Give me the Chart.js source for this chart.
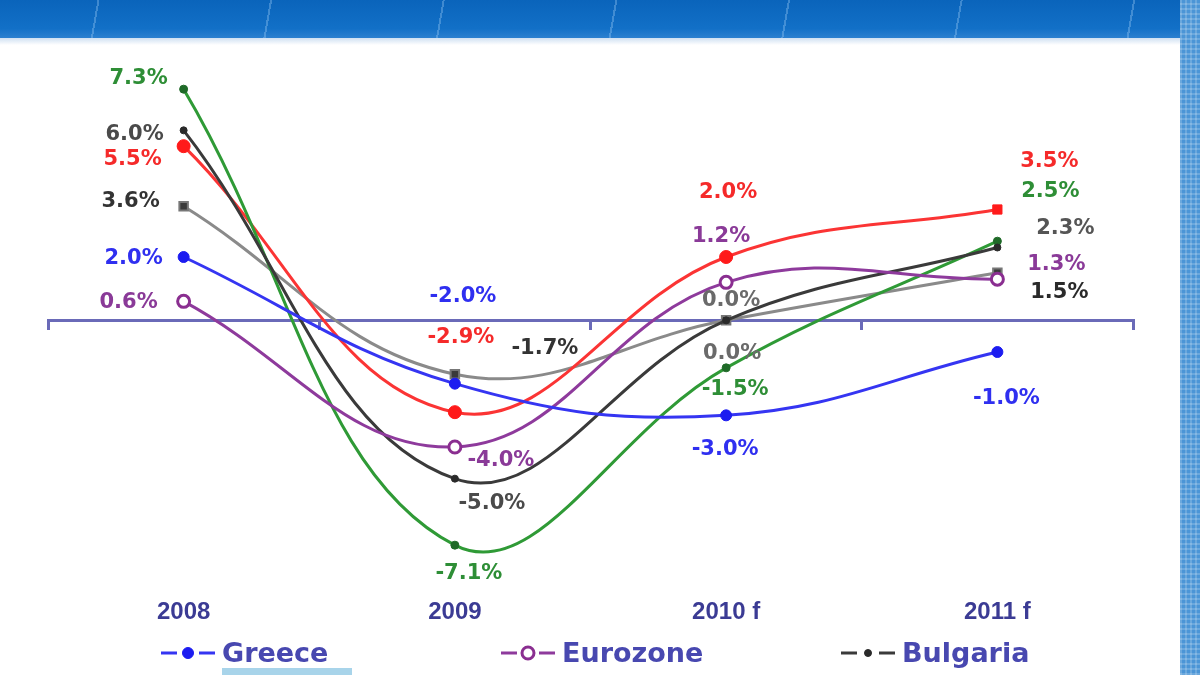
<!DOCTYPE html>
<html>
<head>
<meta charset="utf-8">
<script src="https://cdn.jsdelivr.net/npm/chart.js@4.4.1/dist/chart.umd.min.js"></script>
<style>
html,body{margin:0;padding:0;background:#fff;width:1200px;height:675px;overflow:hidden;position:relative;}
#banner{position:absolute;left:0;top:0;width:1200px;height:38px;
  background:
   repeating-linear-gradient(100deg, rgba(255,255,255,0) 0 96px, rgba(160,205,245,0.35) 96px 98px, rgba(255,255,255,0) 98px 170px),
   linear-gradient(#0a64bb,#1270c7 75%,#2b80d0);}
#band{position:absolute;left:0;top:38px;width:1180px;height:7px;background:linear-gradient(#cfe0f2,#ffffff);}
#strip{position:absolute;left:1180px;top:0;width:20px;height:675px;
  background:
   repeating-linear-gradient(0deg, rgba(255,255,255,0.18) 0 2px, rgba(255,255,255,0) 2px 5px),
   repeating-linear-gradient(90deg, rgba(255,255,255,0.18) 0 2px, rgba(255,255,255,0) 2px 5px),
   #4b95d6;}
#wrap{position:absolute;left:0;top:0;width:1200px;height:675px;}
#legend{position:absolute;left:0;top:637px;width:1180px;height:32px;}
.li{position:absolute;top:0;height:32px;display:flex;align-items:center;}
.li canvas{display:block;margin-right:6px;}
.li span{font-family:"DejaVu Sans",sans-serif;font-weight:bold;font-size:27px;color:#4848b0;line-height:32px;}
#under{position:absolute;left:222px;top:668px;width:130px;height:7px;background:#a8d4ea;}
</style>
</head>
<body>
<div id="banner"></div>
<div id="band"></div>
<div id="strip"></div>
<div id="wrap"><canvas id="c" width="1200" height="675"></canvas></div>
<div id="legend"></div>
<div id="under"></div>
<script>
// ---- data ----
const categories = ['2008', '2009', '2010 f', '2011 f'];
const greece   = [2.0, -2.0, -3.0, -1.0];
const eurozone = [0.6, -4.0, 1.2, 1.3];
const bulgaria = [6.0, -5.0, 0.0, 2.3];
const romania  = [7.3, -7.1, -1.5, 2.5];
const serbia   = [5.5, -2.9, 2.0, 3.5];
const cyprus   = [3.6, -1.7, 0.0, 1.5];
const legendCount = 3;

// ---- label placement (offsets from each point, px) ----
const offGreece   = [[-50, 2], [8, -87], [-1, 34], [9, 47]];
const offEurozone = [[-55, 1], [46, 14], [-5, -46], [59, -15]];
const offBulgaria = [[-49, 4], [37, 25], [6, 33], [68, -19]];
const offRomania  = [[-45, -11], [14, 28], [9, 22], [53, -50]];
const offSerbia   = [[-51, 13], [6, -75], [2, -64], [52, -48]];
const offCyprus   = [[-53, -5], [90, -26], [5, -20], [62, 20]];

const datasets = [
  {label:'Greece', data:greece, borderColor:'#3535f2', backgroundColor:'#1c1cf0',
   pointRadius:5.5, pointBorderColor:'#1c1cf0', pointBorderWidth:1, pointStyle:'circle',
   labelColor:'#2f2ff0', labelOffsets:offGreece},
  {label:'Eurozone', data:eurozone, borderColor:'#8e3a9c', backgroundColor:'#ffffff',
   pointRadius:6, pointBorderColor:'#8a2e90', pointBorderWidth:3, pointStyle:'circle',
   labelColor:'#8a3a98', labelOffsets:offEurozone},
  {label:'Bulgaria', data:bulgaria, borderColor:'#3a3a3a', backgroundColor:'#2a2a2a',
   pointRadius:3.5, pointBorderColor:'#2a2a2a', pointBorderWidth:1, pointStyle:'circle',
   labelColor:'#4a4a4a', labelColors:['#4a4a4a','#4a4a4a','#6a6a6a','#555555'], labelOffsets:offBulgaria},
  {label:'Romania', data:romania, borderColor:'#2f9a36', backgroundColor:'#1f6a28',
   pointRadius:4, pointBorderColor:'#1f6a28', pointBorderWidth:1, pointStyle:'circle',
   labelColor:'#2e8e36', labelOffsets:offRomania},
  {label:'Serbia', data:serbia, borderColor:'#fb3434', backgroundColor:'#ff1a1a',
   pointRadius:6.5, pointBorderColor:'#ff1a1a', pointBorderWidth:1, pointStyle:['circle','circle','circle','rect'],
   labelColor:'#f52a2a', labelOffsets:offSerbia},
  {label:'Cyprus', data:cyprus, borderColor:'#8a8a8a', backgroundColor:'#3a3a3a',
   pointRadius:6, pointBorderColor:'#777777', pointBorderWidth:2, pointStyle:'rect',
   labelColor:'#333333', labelColors:['#333333','#333333','#6a6a6a','#2a2a2a'], labelOffsets:offCyprus}
];
datasets.forEach(d => { d.borderWidth = 3; d.tension = 0.4; d.fill = false; d.clip = false; });

const pointLabels = {
  id: 'pointLabels',
  afterDatasetsDraw(chart) {
    const ctx = chart.ctx;
    chart.data.datasets.forEach((ds, di) => {
      const meta = chart.getDatasetMeta(di);
      meta.data.forEach((pt, i) => {
        const off = ds.labelOffsets[i];
        ctx.save();
        ctx.font = 'bold 21px "DejaVu Sans"';
        ctx.fillStyle = (ds.labelColors && ds.labelColors[i]) || ds.labelColor;
        ctx.textAlign = 'center';
        ctx.textBaseline = 'middle';
        ctx.fillText(ds.data[i].toFixed(1) + '%', pt.x + off[0], pt.y + off[1]);
        ctx.restore();
      });
    });
  }
};

const axisColor = '#6a6ab8';
const chart = new Chart(document.getElementById('c'), {
  type: 'line',
  data: { labels: categories, datasets: datasets },
  plugins: [pointLabels],
  options: {
    responsive: false,
    animation: false,
    layout: { padding: { left: 48, right: 67, top: 48, bottom: 45 } },
    plugins: { legend: { display: false }, tooltip: { enabled: false } },
    scales: {
      x: {
        type: 'category', offset: true, position: 'bottom',
        grid: { display: false, drawTicks: false }, border: { display: false },
        ticks: { padding: 3, color: '#3b3b94', font: { family: '"Liberation Sans"', weight: 'bold', size: 24 } }
      },
      x2: {
        type: 'category', offset: true, position: { y: 0 },
        grid: { offset: true, drawOnChartArea: false, drawTicks: true, tickLength: 8, color: axisColor, lineWidth: 3 },
        border: { display: true, color: axisColor, width: 3 },
        ticks: { display: false }
      },
      y: { min: -8.68, max: 8.6, display: false }
    }
  }
});

// ---- HTML legend (first row) ----
const legendEl = document.getElementById('legend');
datasets.slice(0, legendCount).forEach((ds, i) => {
  const item = document.createElement('div');
  item.className = 'li';
  item.style.left = (160 + i * 340) + 'px';
  const cv = document.createElement('canvas');
  cv.width = 56; cv.height = 20;
  const g = cv.getContext('2d');
  g.strokeStyle = ds.borderColor; g.lineWidth = 3;
  g.beginPath(); g.moveTo(1, 10); g.lineTo(17, 10); g.moveTo(39, 10); g.lineTo(55, 10); g.stroke();
  g.beginPath(); g.arc(28, 10, Math.min(ds.pointRadius, 6), 0, Math.PI * 2);
  g.fillStyle = ds.backgroundColor; g.fill();
  g.lineWidth = ds.pointBorderWidth; g.strokeStyle = ds.pointBorderColor; g.stroke();
  const sp = document.createElement('span');
  sp.textContent = ds.label;
  item.appendChild(cv); item.appendChild(sp);
  legendEl.appendChild(item);
});
</script>
</body>
</html>
